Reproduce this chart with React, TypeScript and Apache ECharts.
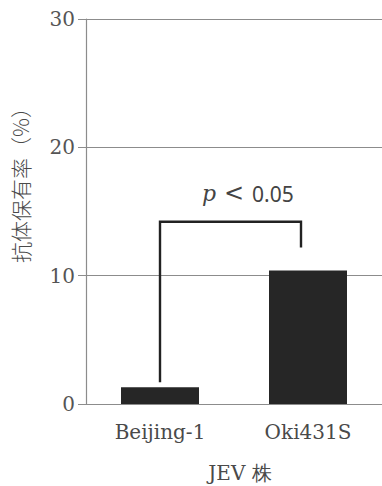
import React, { useEffect, useRef } from "react";
import * as echarts from "echarts";

// JEV strains and antibody prevalence (%)
const strains = ["Beijing-1", "Oki431S"];
const prevalence = [1.3, 10.4];
const yTicks = [0, 10, 20, 30];

// significance bracket: [left leg bottom, bracket top, right leg bottom] in %
const bracketLevels = [1.7, 14.2, 12.2];
const pSymbol = "p";
const ltSymbol = "<";
const pThreshold = "0.05";

const yAxisTitle = "抗体保有率（%）";
const xAxisTitle = "JEV 株";

const serif = "DejaVu Serif";
const cjk = "Noto Sans CJK JP";

export default function App() {
  const ref = useRef<HTMLDivElement>(null);

  useEffect(() => {
    if (!ref.current) return;
    const chart = echarts.init(ref.current, null, { renderer: "svg" });

    const option: any = {
      animation: false,
      backgroundColor: "#ffffff",
      grid: { left: 86, right: -4, top: 19, bottom: 82 },
      xAxis: {
        type: "category",
        data: strains,
        axisLine: { show: true, lineStyle: { color: "#8c8c8c", width: 1.2 } },
        axisTick: { show: false },
        axisLabel: {
          margin: 18,
          fontFamily: serif,
          fontSize: 20,
          color: "#4a4a4a",
        },
      },
      yAxis: {
        type: "value",
        min: yTicks[0],
        max: yTicks[yTicks.length - 1],
        interval: 10,
        axisLine: { show: true, lineStyle: { color: "#8c8c8c", width: 1.2 } },
        axisTick: { show: true, length: 8, lineStyle: { color: "#8c8c8c" } },
        splitLine: { show: true, lineStyle: { color: "#8c8c8c", width: 1.2 } },
        axisLabel: {
          margin: 11,
          fontFamily: serif,
          fontSize: 20,
          color: "#555555",
        },
      },
      series: [
        {
          type: "bar",
          data: prevalence,
          barWidth: 78,
          itemStyle: { color: "#262626" },
        },
        {
          type: "custom",
          data: [[0, 0]],
          z: 5,
          renderItem: (_params: any, api: any) => {
            const leftBottom = api.coord([0, bracketLevels[0]]);
            const leftTop = api.coord([0, bracketLevels[1]]);
            const rightTop = api.coord([1, bracketLevels[1]]);
            const rightBottom = api.coord([1, bracketLevels[2]]);
            const rx = rightTop[0] - 7;
            const ty = leftTop[1] - 28;
            return {
              type: "group",
              children: [
                {
                  type: "polyline",
                  shape: {
                    points: [
                      leftBottom,
                      leftTop,
                      [rx, rightTop[1]],
                      [rx, rightBottom[1]],
                    ],
                  },
                  style: { stroke: "#222222", lineWidth: 2.4, fill: null },
                },
                {
                  type: "text",
                  x: leftTop[0] + 42,
                  y: ty,
                  style: {
                    text: pSymbol,
                    fontFamily: serif,
                    fontStyle: "italic",
                    fontSize: 22,
                    fill: "#444444",
                    align: "left",
                    verticalAlign: "middle",
                  },
                },
                {
                  type: "text",
                  x: leftTop[0] + 64,
                  y: ty - 1,
                  style: {
                    text: ltSymbol,
                    fontFamily: "DejaVu Sans",
                    fontSize: 24,
                    fill: "#444444",
                    align: "left",
                    verticalAlign: "middle",
                  },
                },
                {
                  type: "text",
                  x: leftTop[0] + 92,
                  y: ty,
                  style: {
                    text: pThreshold,
                    fontFamily: "Noto Sans",
                    fontSize: 21,
                    fill: "#444444",
                    align: "left",
                    verticalAlign: "middle",
                  },
                },
              ],
            };
          },
        },
      ],
      graphic: [
        {
          type: "text",
          x: 20,
          y: 180,
          rotation: Math.PI / 2,
          style: {
            text: yAxisTitle,
            fontFamily: cjk,
            fontSize: 21,
            fontWeight: 300,
            fill: "#4a4a4a",
            align: "center",
            verticalAlign: "middle",
          },
        },
        {
          type: "text",
          x: 240,
          y: 473,
          style: {
            text: xAxisTitle,
            fontFamily: serif,
            fontSize: 20,
            fill: "#4a4a4a",
            align: "center",
            verticalAlign: "middle",
          },
        },
      ],
    };
    chart.setOption(option);
    return () => chart.dispose();
  }, []);

  return (
    <div
      ref={ref}
      style={{ position: "fixed", left: 0, top: 0, width: 382, height: 486 }}
    />
  );
}
